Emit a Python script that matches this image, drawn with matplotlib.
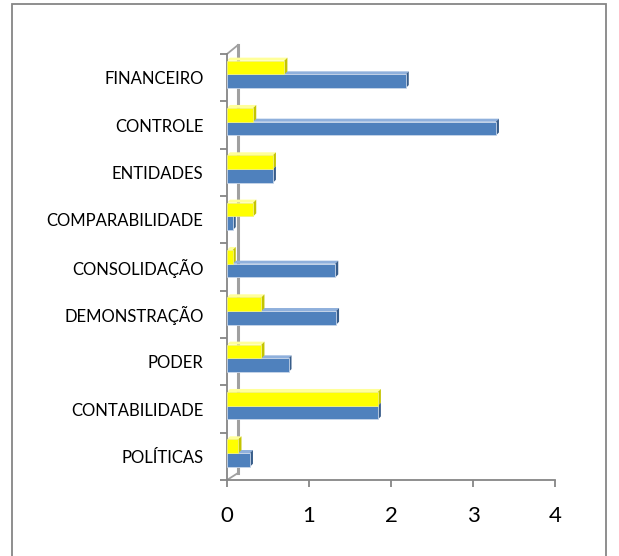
import matplotlib
matplotlib.use("Agg")
import matplotlib.pyplot as plt
from matplotlib.patches import Polygon, Rectangle

plt.rcParams['font.family'] = ['Lato', 'DejaVu Sans']

# categories bottom to top
categories = ['POLÍTICAS', 'CONTABILIDADE', 'PODER', 'DEMONSTRAÇÃO', 'CONSOLIDAÇÃO',
              'COMPARABILIDADE', 'ENTIDADES', 'CONTROLE', 'FINANCEIRO']
blue_vals = [0.28, 1.84, 0.75, 1.33, 1.32, 0.07, 0.56, 3.28, 2.18]
yellow_vals = [0.14, 1.84, 0.42, 0.42, 0.07, 0.32, 0.56, 0.32, 0.70]
x_ticks = [0, 1, 2, 3, 4]

W, H = 619, 556
fig = plt.figure(figsize=(W / 100, H / 100), dpi=100)
fig.patches.append(Rectangle((12 / W, -0.05), 594 / W, 1 - 4 / H + 0.05, transform=fig.transFigure,
                             fill=False, edgecolor='#868686', linewidth=1.3))

ax = fig.add_axes([227 / W, 1 - 480 / H, 328 / W, 426 / H])
ax.set_xlim(0, 4)
ax.set_ylim(-0.5, 8.5)

px_x = 4 / 328    # data units per pixel
px_y = 9 / 426
bar_h = 0.29
dx = 3 * px_x
dy = 3 * px_y


def bar3d(y0, val, face, top, side, edge):
    ax.barh(y0, val, height=bar_h, align='edge', color=face, edgecolor=edge, linewidth=0.6, zorder=3)
    ax.add_patch(Polygon([(0, y0 + bar_h), (dx, y0 + bar_h + dy), (val + dx, y0 + bar_h + dy), (val, y0 + bar_h)],
                         closed=True, facecolor=top, edgecolor='none', zorder=2, clip_on=False))
    ax.add_patch(Polygon([(val, y0), (val + dx, y0 + dy), (val + dx, y0 + bar_h + dy), (val, y0 + bar_h)],
                         closed=True, facecolor=side, edgecolor='none', zorder=2, clip_on=False))


for i in range(len(categories)):
    bar3d(i - 0.22, blue_vals[i], '#4f81bd', '#8fb0dc', '#385d8a', '#c8d6ea')
    bar3d(i + 0.07, yellow_vals[i], '#ffff00', '#ffff9a', '#c4c400', '#f2f27a')

for s in ['top', 'right']:
    ax.spines[s].set_visible(False)
for s in ['left', 'bottom']:
    ax.spines[s].set_color('#868686')
    ax.spines[s].set_linewidth(1.3)

# back wall lines of the 3D frame
gray = '#a0a0a0'
wx = 11 * px_x
ax.plot([wx, wx], [-0.5 + 7 * px_y, 8.5 + 9 * px_y], color=gray, lw=2.2, clip_on=False, zorder=1)
ax.plot([0, wx], [8.5, 8.5 + 9 * px_y], color=gray, lw=1.3, clip_on=False, zorder=1)
ax.plot([0, wx], [-0.5, -0.5 + 7 * px_y], color=gray, lw=1.3, clip_on=False, zorder=1)

ax.set_yticks(range(len(categories)))
ax.set_yticklabels(categories, fontsize=12)
ax.set_yticks([i + 0.5 for i in range(-1, len(categories))], minor=True)
ax.tick_params(axis='y', which='major', length=0, pad=17)
ax.tick_params(axis='y', which='minor', length=5, color='#868686', width=1.3)

ax.set_xticks(x_ticks)
ax.set_xticklabels([str(t) for t in x_ticks], fontsize=16)
ax.tick_params(axis='x', length=5, color='#868686', width=1.3, pad=14)

fig.savefig('out.png', dpi=100)
